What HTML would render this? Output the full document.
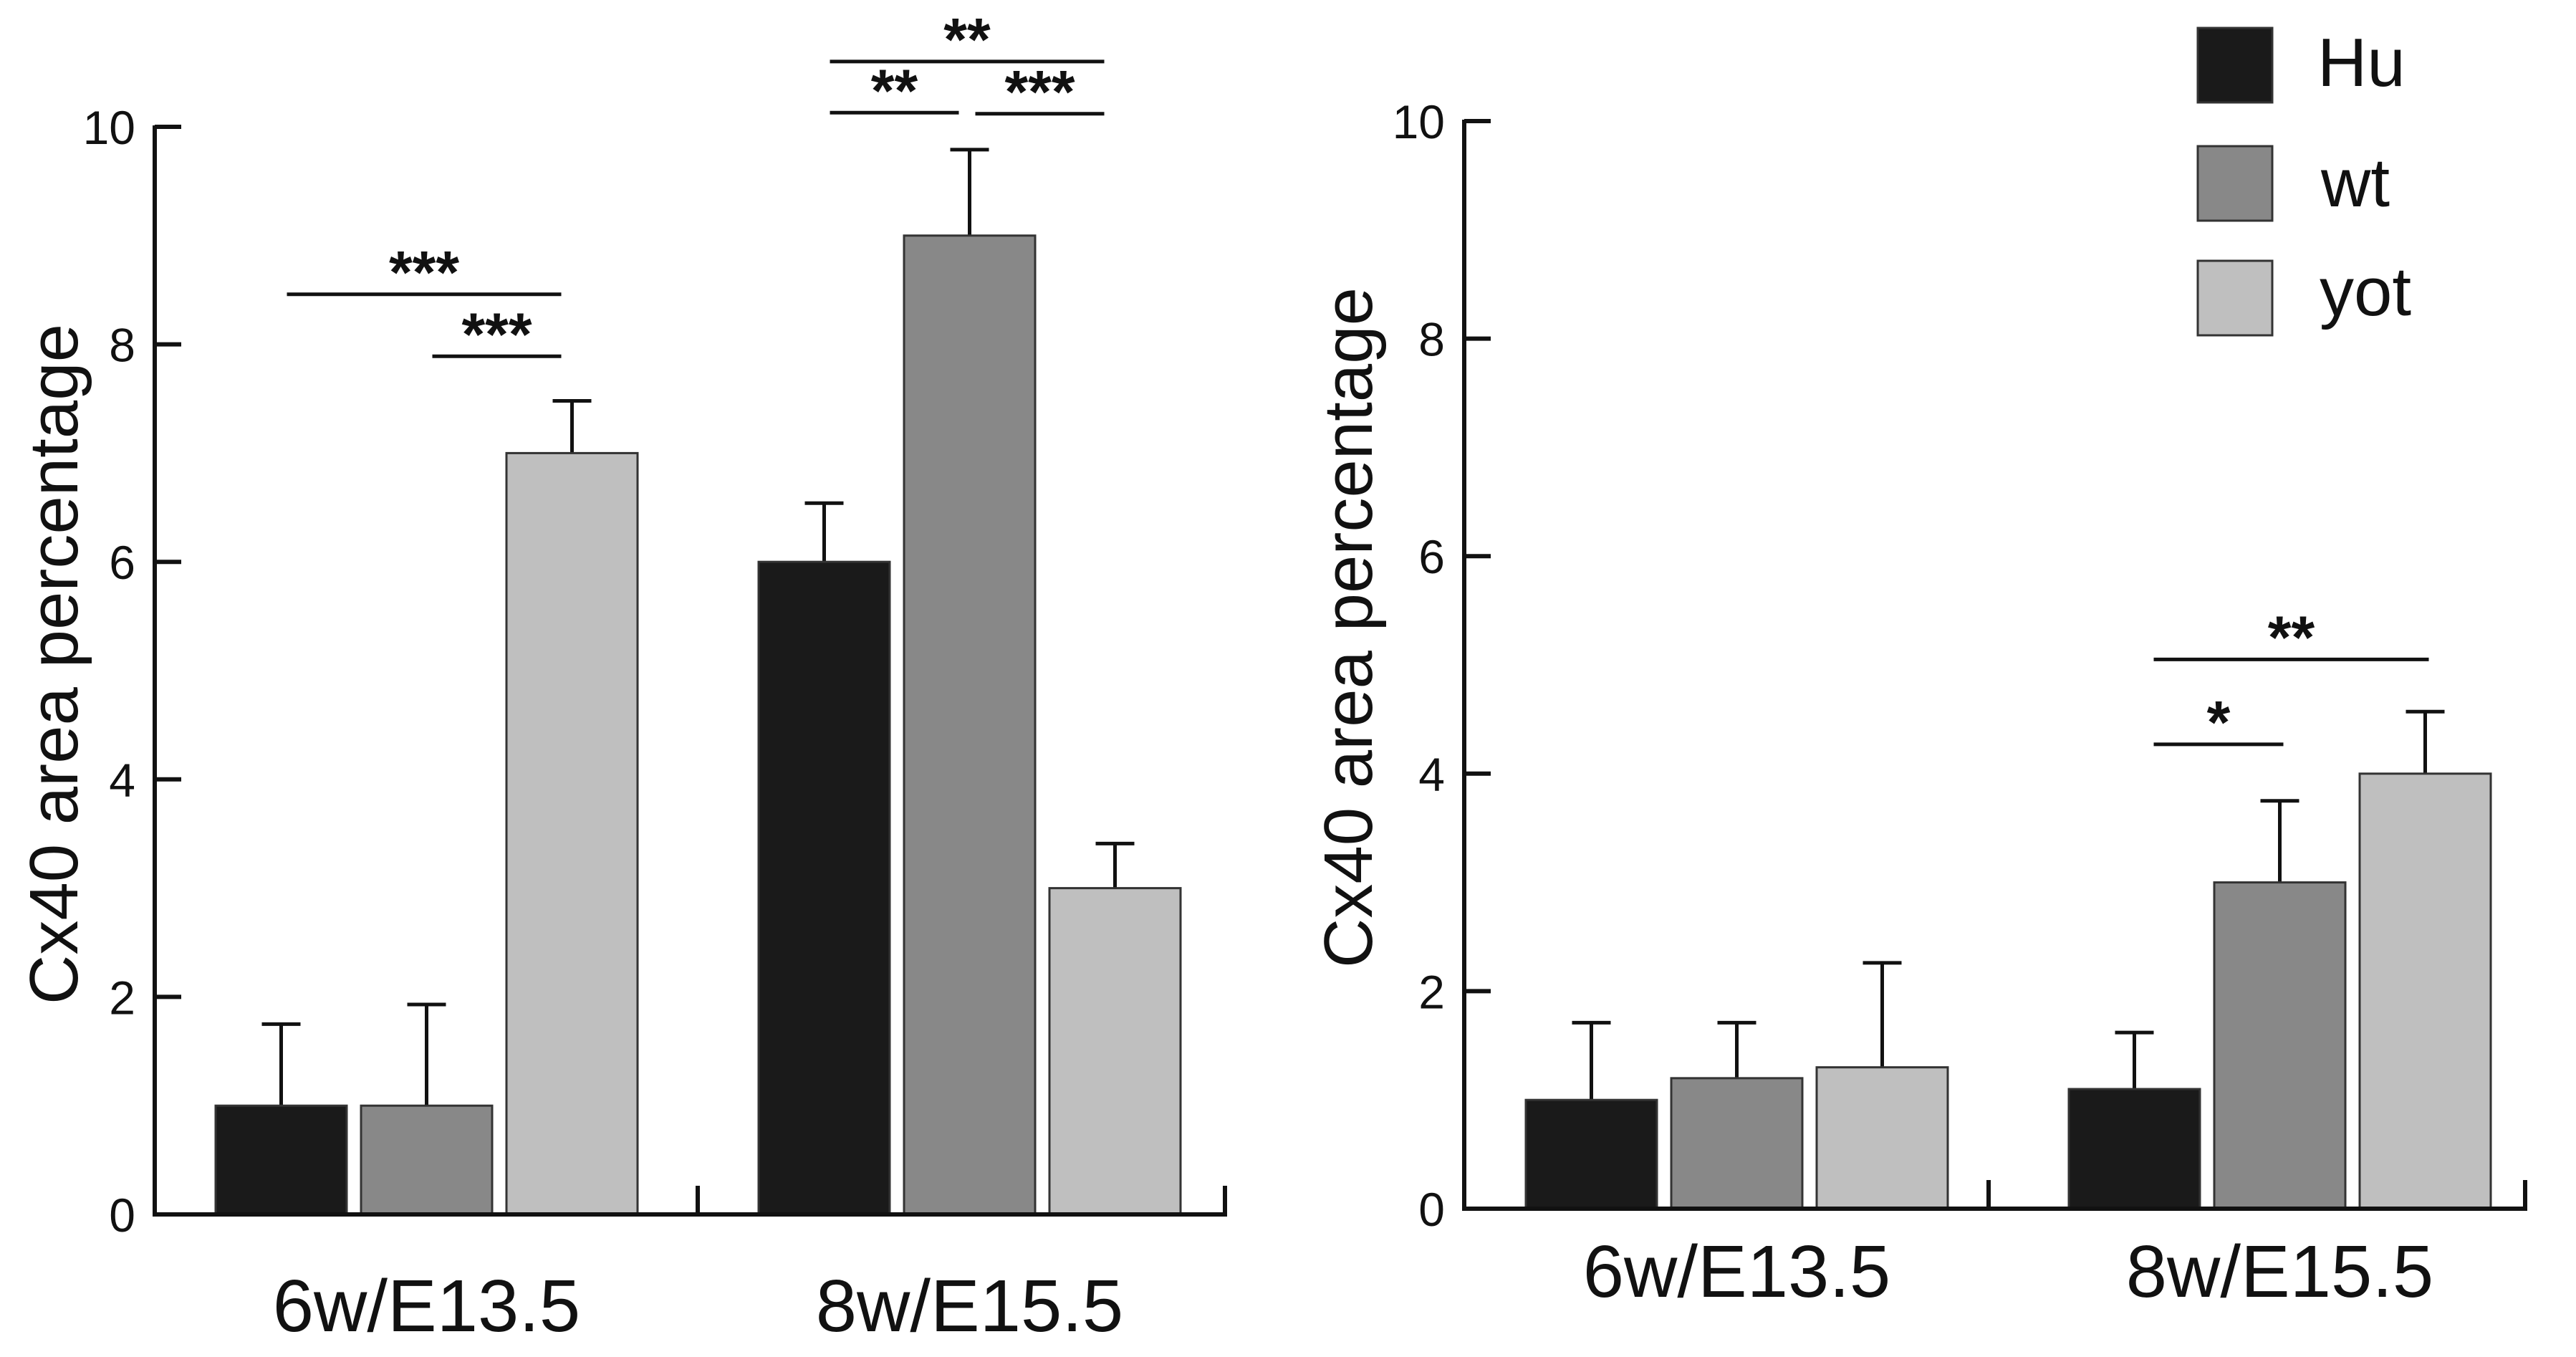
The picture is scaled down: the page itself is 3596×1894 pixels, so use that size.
<!DOCTYPE html>
<html><head><meta charset="utf-8"><style>
html,body{margin:0;padding:0;background:#fff;}
svg{display:block;font-family:"Liberation Sans",Arial,sans-serif;}
</style></head><body>
<svg id="chart" width="3596" height="1894" viewBox="0 0 3596 1894" xmlns="http://www.w3.org/2000/svg">
<rect width="3596" height="1894" fill="#fff"/>
<g id="legend">
 <rect x="3068" y="39" width="104" height="104" fill="#1a1a1a" stroke="#333" stroke-width="3"/>
 <text x="3235" y="120" font-size="96" fill="#111">Hu</text>
 <rect x="3068" y="204" width="104" height="104" fill="#888" stroke="#333" stroke-width="3"/>
 <text x="3240" y="288" font-size="96" fill="#111">wt</text>
 <text x="3238" y="440" font-size="96" fill="#111">yot</text>
 <rect x="3068" y="364" width="104" height="104" fill="#bfbfbf" stroke="#333" stroke-width="3"/>
</g>
</svg>
<script>
const categories = ["6w/E13.5", "8w/E15.5"];
const seriesNames = ["Hu", "wt", "yot"];
const leftValues = [[1.0, 6.0], [1.0, 9.0], [7.0, 3.0]];
const leftErrors = [[1.75, 6.54], [1.93, 9.79], [7.48, 3.41]];
const rightValues = [[1.0, 1.1], [1.2, 3.0], [1.3, 4.0]];
const rightErrors = [[1.71, 1.62], [1.71, 3.75], [2.26, 4.57]];
const yTicks = [0, 2, 4, 6, 8, 10];
const leftSig = [[0, 0, 2, 8.46, "***"], [0, 1, 2, 7.89, "***"], [1, 0, 2, 10.6, "**"], [1, 0, 1, 10.13, "**"], [1, 1, 2, 10.12, "***"]];
const rightSig = [[1, 0, 2, 5.05, "**"], [1, 0, 1, 4.27, "*"]];

const NS = "http://www.w3.org/2000/svg";
const svg = document.getElementById("chart");
const colors = ["#1a1a1a", "#888888", "#bfbfbf"];
function mk(tag, attrs, parent) {
  const e = document.createElementNS(NS, tag);
  for (const k in attrs) e.setAttribute(k, attrs[k]);
  (parent || svg).appendChild(e);
  return e;
}
function panel(cfg) {
  const g = mk("g", {});
  
  
  const yScale = v => cfg.y0 - (cfg.y0 - cfg.y10) * v / 10;
  const barW = 183, gap = 20;
  const barX = (c, s) => cfg.groupStart[c] + s * (barW + gap);
  for (let s = 0; s < seriesNames.length; s++) {
    for (let c = 0; c < categories.length; c++) {
      const v = cfg.values[s][c], e = cfg.errors[s][c];
      const x = barX(c, s), yt = yScale(v), cx = x + barW / 2;
      const eb = mk("line", {x1: cx, x2: cx, y1: yt, y2: yScale(e), stroke: "#111", "stroke-width": 5}, g);
      
      
      const cap = mk("line", {x1: cx - 27, x2: cx + 27, y1: yScale(e), y2: yScale(e), stroke: "#111", "stroke-width": 5}, g);
      
      
      const r = mk("rect", {x: x, y: yt, width: barW, height: cfg.y0 - yt, fill: colors[s], stroke: "#333", "stroke-width": 3}, g);
      
      
    }
  }
  const ya = mk("line", {x1: cfg.x0, x2: cfg.x0, y1: cfg.y10 - 2, y2: cfg.y0 + 3, stroke: "#111", "stroke-width": 6}, g);
  
  
  const xa = mk("path", {d: `M${cfg.x0} ${cfg.y0} H${cfg.x1} V${cfg.y0 - 40} M${cfg.xm} ${cfg.y0} V${cfg.y0 - 40}`, stroke: "#111", "stroke-width": 6, fill: "none"}, g);
  
  
  yTicks.forEach(t => {
    const y = yScale(t);
    const tk = mk("line", {x1: cfg.x0, x2: cfg.x0 + 37, y1: y, y2: y, stroke: "#111", "stroke-width": 6}, g);
    
    
    const tl = mk("text", {x: cfg.x0 - 27, y: y + 24, "font-size": 66, "text-anchor": "end", fill: "#111"}, g);
    tl.textContent = t;
    
    
  });
  categories.forEach((c, i) => {
    const tx = mk("text", {x: cfg.groupStart[i] + (3 * barW + 2 * gap) / 2, y: cfg.labelY, "font-size": 103, "text-anchor": "middle", fill: "#111"}, g);
    tx.textContent = c;
    
    
  });
  const yt = mk("text", {x: 0, y: 0, "font-size": 96, "text-anchor": "middle", fill: "#111", transform: `translate(${cfg.titleX},${cfg.titleY}) rotate(-90)`}, g);
  yt.textContent = "Cx40 area percentage";
  
  
  cfg.sig.forEach((sg, i) => {
    const [c, a, b, lv, lab] = sg;
    const xa1 = barX(c, a) + barW / 2 + cfg.sigPad[0], xb = barX(c, b) + barW / 2 + cfg.sigPad[1];
    const y = yScale(lv);
    const ln = mk("line", {x1: xa1, x2: xb, y1: y, y2: y, stroke: "#111", "stroke-width": 5}, g);
    
    
    const st = mk("text", {x: (xa1 + xb) / 2, y: y - 2, "font-size": 84, "font-weight": "bold", "text-anchor": "middle", fill: "#111"}, g);
    st.textContent = lab;
    
    
  });
}
panel({name: "left-panel", x0: 216, xm: 974, x1: 1710, groupStart: [301, 1059], sigPad: [8, -15], y0: 1695, y10: 177, values: leftValues, errors: leftErrors, sig: leftSig, labelY: 1858, titleX: 108, titleY: 927});
panel({name: "right-panel", x0: 2044, xm: 2776, x1: 3525, groupStart: [2130, 2888], sigPad: [27, 5], y0: 1687, y10: 169, values: rightValues, errors: rightErrors, sig: rightSig, labelY: 1810, titleX: 1915, titleY: 876});
</script>
</body></html>
